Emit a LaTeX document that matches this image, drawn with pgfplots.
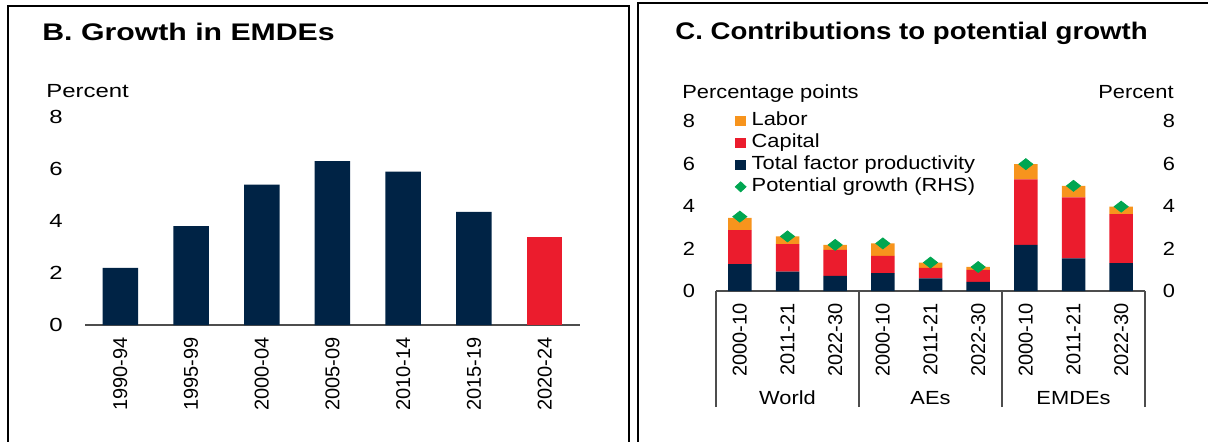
\documentclass[border=0pt]{standalone}
\usepackage{fontspec}
\setmainfont{Liberation Sans}
\newfontfamily\Bfont{Liberation Sans}[FakeStretch=1.26]
\newfontfamily\Cfont{Liberation Sans}[FakeStretch=1.15]
\newfontfamily\Rfont{Liberation Sans}
\usepackage{pgfplots}
\pgfplotsset{compat=1.18}
\definecolor{navy}{HTML}{002345}
\definecolor{wbred}{HTML}{EB1C2D}
\definecolor{wborange}{HTML}{F7941D}
\definecolor{wbgreen}{HTML}{00A651}
\definecolor{axgray}{HTML}{4D4D4D}
\newcommand{\fsz}{\fontsize{9.5}{11}\selectfont}
\newcommand{\rsz}{\fontsize{10}{12}\selectfont}
\begin{document}
\begin{tikzpicture}
\useasboundingbox (0,0) rectangle (604pt,220.5pt);
% panel frames
\draw[line width=1pt] (4pt,-10pt) -- (4pt,217.5pt) -- (314.5pt,217.5pt) -- (314.5pt,-10pt);
\draw[line width=1pt] (319pt,-10pt) -- (319pt,219pt) -- (610pt,219pt);
% titles
\node[anchor=base west, inner sep=0pt] at (21pt,200.5pt) {\Bfont\bfseries\fontsize{12}{14}\selectfont B. Growth in EMDEs};
\node[anchor=base west, inner sep=0pt] at (337.5pt,200.8pt) {\Cfont\bfseries\fontsize{12}{14}\selectfont C. Contributions to potential growth};
\node[anchor=base west, inner sep=0pt] at (23pt,171.8pt) {\Bfont\fsz Percent};
\node[anchor=base west, inner sep=0pt] at (341pt,171.3pt) {\Cfont\fsz Percentage points};
\node[anchor=base east, inner sep=0pt] at (587pt,171.3pt) {\Cfont\fsz Percent};

% ---------- Panel B ----------
\begin{axis}[
  at={(42.5pt,58pt)}, anchor=south west, scale only axis,
  width=247.5pt, height=104pt,
  xmin=-0.5, xmax=6.5, ymin=0, ymax=8,
  ybar, bar width=17.75pt,
  axis x line*=bottom, axis y line*=left,
  y axis line style={draw=none},
  x axis line style={draw=axgray, line width=0.9pt, -},
  major tick length=0pt, tick style={draw=none},
  xtick={0,1,2,3,4,5,6},
  xticklabels={1990-94,1995-99,2000-04,2005-09,2010-14,2015-19,2020-24},
  xticklabel style={font=\Rfont\rsz, rotate=90, anchor=east, inner xsep=6pt, inner ysep=0pt},
  ytick={0,2,4,6,8},
  yticklabel style={font=\Bfont\fsz, anchor=center, xshift=-14.5pt},
  /pgf/number format/assume math mode=true,
  clip=false,
]
\addplot[fill=navy, draw=none, bar shift=0pt] coordinates {(0,2.2) (1,3.8) (2,5.4) (3,6.3) (4,5.9) (5,4.35)};
\addplot[fill=wbred, draw=none, bar shift=0pt] coordinates {(6,3.4)};
\end{axis}

% ---------- Panel C ----------
\begin{axis}[
  at={(358pt,75pt)}, anchor=south west, scale only axis,
  width=214.5pt, height=85pt,
  xmin=-0.5, xmax=8.5, ymin=0, ymax=8,
  ybar stacked, bar width=11.75pt,
  axis x line*=bottom, axis y line*=left,
  y axis line style={draw=none},
  x axis line style={draw=axgray, line width=0.9pt, -},
  major tick length=0pt, tick style={draw=none},
  xtick={0,1,2,3,4,5,6,7,8},
  xticklabels={2000-10,2011-21,2022-30,2000-10,2011-21,2022-30,2000-10,2011-21,2022-30},
  xticklabel style={font=\Rfont\rsz, rotate=90, anchor=east, inner xsep=6pt, inner ysep=0pt},
  ytick={0,2,4,6,8},
  yticklabel style={font=\Cfont\fsz, anchor=center, xshift=-13.5pt},
  /pgf/number format/assume math mode=true,
  extra x ticks={-0.5,2.5,5.5,8.5},
  extra x tick labels={},
  extra x tick style={major tick length=58pt, tick align=outside, tick style={draw=axgray, line width=0.9pt}},
  clip=false,
  legend style={at={(axis description cs:0.044,1.054)}, anchor=north west,
    draw=none, fill=none, inner sep=0pt, outer sep=0pt, row sep=2pt,
    nodes={inner sep=0pt, text height=7pt, text depth=2pt, font=\Cfont\fsz},
    /tikz/every odd column/.append style={column sep=2.6pt}},
  legend cell align=left,
]
\addplot[fill=navy, draw=none, forget plot] coordinates {(0,1.26) (1,0.91) (2,0.71) (3,0.84) (4,0.60) (5,0.43) (6,2.17) (7,1.54) (8,1.31)};
\addplot[fill=wbred, draw=none, forget plot] coordinates {(0,1.61) (1,1.30) (2,1.23) (3,0.81) (4,0.49) (5,0.56) (6,3.08) (7,2.87) (8,2.31)};
\addplot[fill=wborange, draw=none, forget plot] coordinates {(0,0.57) (1,0.36) (2,0.23) (3,0.59) (4,0.25) (5,0.14) (6,0.72) (7,0.54) (8,0.35)};
\addlegendimage{legend image code/.code={\fill[wborange] (0pt,-2.4pt) rectangle (5pt,2.4pt);}}
\addlegendentry{Labor}
\addlegendimage{legend image code/.code={\fill[wbred] (0pt,-2.4pt) rectangle (5pt,2.4pt);}}
\addlegendentry{Capital}
\addlegendimage{legend image code/.code={\fill[navy] (0pt,-2.4pt) rectangle (5pt,2.4pt);}}
\addlegendentry{Total factor productivity}
\addlegendimage{legend image code/.code={\fill[wbgreen] (2.5pt,2.5pt) -- (5.2pt,0pt) -- (2.5pt,-2.5pt) -- (-0.2pt,0pt) -- cycle;}}
\addlegendentry{Potential growth (RHS)}
\node[font=\Cfont\fsz] at (axis cs:1,-5.04) {World};
\node[font=\Cfont\fsz] at (axis cs:4,-5.04) {AEs};
\node[font=\Cfont\fsz] at (axis cs:7,-5.04) {EMDEs};
\end{axis}

\begin{axis}[
  at={(358pt,75pt)}, anchor=south west, scale only axis,
  width=214.5pt, height=85pt,
  xmin=-0.5, xmax=8.5, ymin=0, ymax=8,
  axis x line=none, axis y line*=right,
  y axis line style={draw=none},
  major tick length=0pt, tick style={draw=none},
  ytick={0,2,4,6,8},
  yticklabel style={font=\Cfont\fsz, anchor=center, xshift=12pt},
  /pgf/number format/assume math mode=true,
  clip=false,
]
\addplot[only marks, mark=square*, mark size=2.15pt,
  mark options={xscale=1.15, yscale=0.9, rotate=45, fill=wbgreen, draw=wbgreen}]
  coordinates {(0,3.50) (1,2.57) (2,2.17) (3,2.24) (4,1.34) (5,1.13) (6,5.97) (7,4.95) (8,3.97)};
\end{axis}
\end{tikzpicture}
\end{document}
